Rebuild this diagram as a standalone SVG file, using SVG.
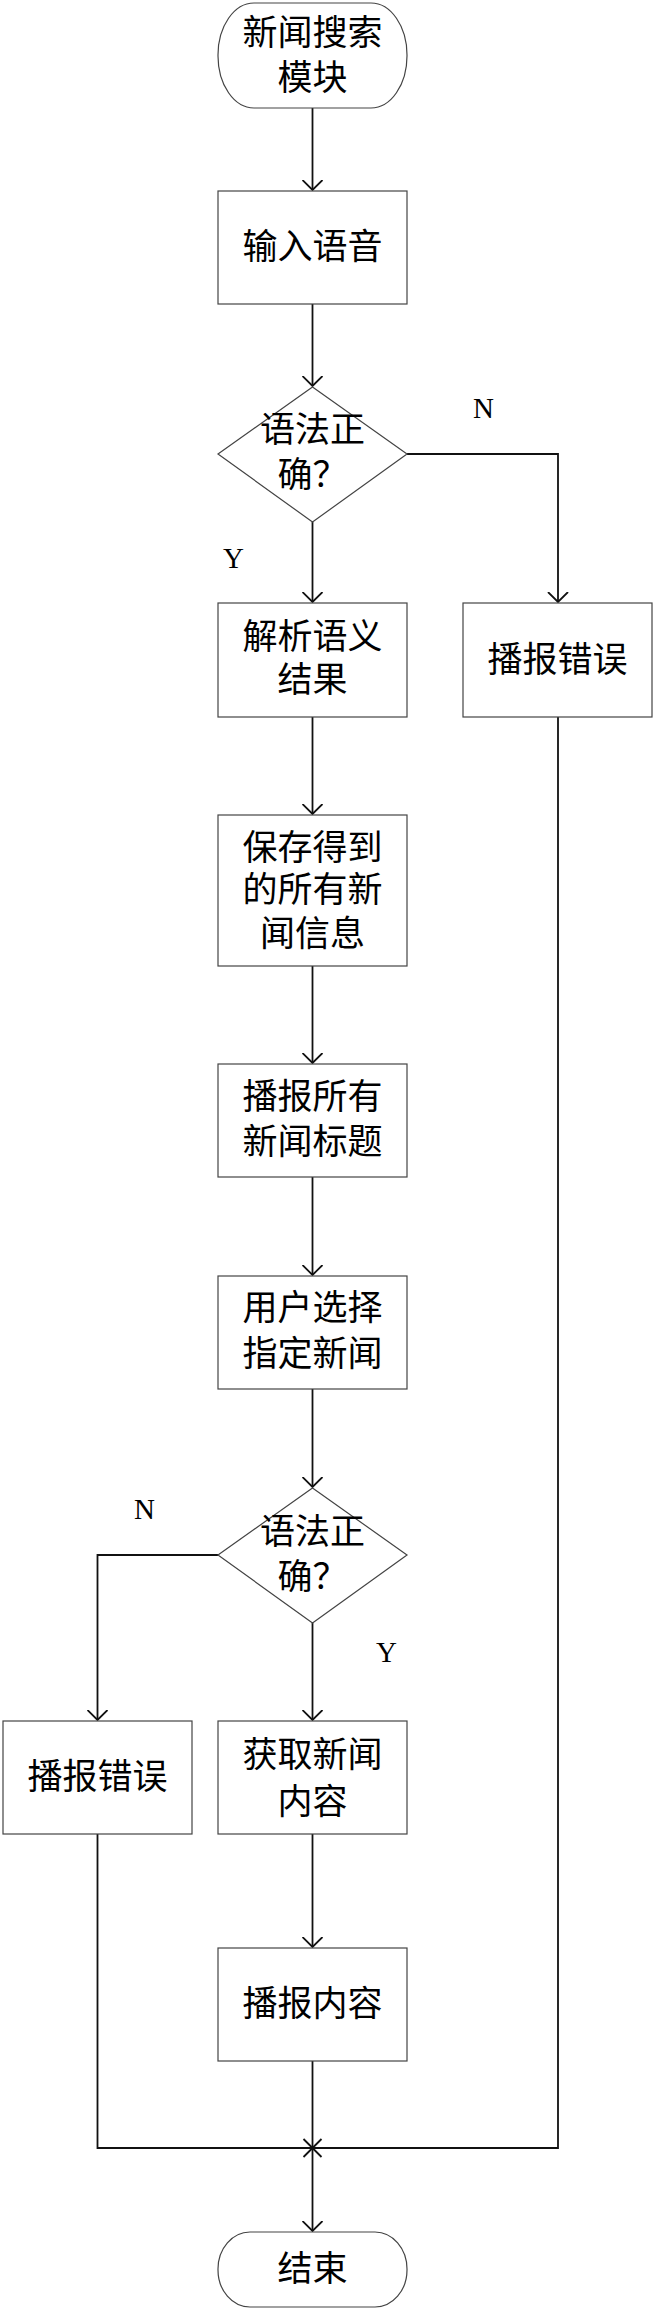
<svg xmlns="http://www.w3.org/2000/svg" width="656" height="2310" viewBox="0 0 656 2310">
<style>
.node{fill:#fff;stroke:#444;stroke-width:1.2}
.t{font-family:"Liberation Serif","Noto Sans CJK SC",serif;font-size:35px;fill:#000;text-anchor:middle}
.lbl{font-family:"Liberation Serif",serif;font-size:29px;fill:#000}
.c{fill:none;stroke:#111;stroke-width:1.8}
</style>
<defs>
<marker id="arr" viewBox="0 0 11 22" refX="10" refY="11" markerWidth="11" markerHeight="22" markerUnits="userSpaceOnUse" orient="auto">
<path d="M0,1 L10,11 L0,21" fill="none" stroke="#111" stroke-width="1.8"/>
</marker>
</defs>
<rect width="656" height="2310" fill="#fff"/>
<g id="connectors">
<line class="c" x1="312.5" y1="108" x2="312.5" y2="190" marker-end="url(#arr)"/>
<line class="c" x1="312.5" y1="304" x2="312.5" y2="386" marker-end="url(#arr)"/>
<line class="c" x1="312.5" y1="522" x2="312.5" y2="602" marker-end="url(#arr)"/>
<polyline class="c" points="407,454 558,454 558,602" marker-end="url(#arr)"/>
<line class="c" x1="312.5" y1="717" x2="312.5" y2="814" marker-end="url(#arr)"/>
<line class="c" x1="312.5" y1="966" x2="312.5" y2="1063" marker-end="url(#arr)"/>
<line class="c" x1="312.5" y1="1177" x2="312.5" y2="1275" marker-end="url(#arr)"/>
<line class="c" x1="312.5" y1="1389" x2="312.5" y2="1487" marker-end="url(#arr)"/>
<line class="c" x1="312.5" y1="1623" x2="312.5" y2="1720" marker-end="url(#arr)"/>
<polyline class="c" points="219,1555 97.5,1555 97.5,1720" marker-end="url(#arr)"/>
<line class="c" x1="312.5" y1="1834" x2="312.5" y2="1947" marker-end="url(#arr)"/>
<line class="c" x1="312.5" y1="2061" x2="312.5" y2="2148"/>
<polyline class="c" points="97.5,1834 97.5,2148 312.5,2148"/>
<polyline class="c" points="558,717 558,2148 312.5,2148"/>
<line class="c" x1="303.5" y1="2139" x2="321.5" y2="2157"/>
<line class="c" x1="321.5" y1="2139" x2="303.5" y2="2157"/>
<line class="c" x1="312.5" y1="2148" x2="312.5" y2="2231" marker-end="url(#arr)"/>
</g>
<g id="start">
<rect class="node" x="218" y="3" width="189" height="105" rx="36" ry="52"/>
<text class="t" x="312.5" y="45">新闻搜索</text>
<text class="t" x="312.5" y="90">模块</text>
</g>
<g id="input">
<rect class="node" x="218" y="191" width="189" height="113"/>
<text class="t" x="312.5" y="259">输入语音</text>
</g>
<g id="check1">
<polygon class="node" points="312.5,387 407,454 312.5,522 218,454"/>
<text class="t" x="312.5" y="442">语法正</text>
<text class="t" x="312.5" y="487">确？</text>
</g>
<text class="lbl" x="473" y="418">N</text>
<text class="lbl" x="223" y="568">Y</text>
<g id="parse">
<rect class="node" x="218" y="603" width="189" height="114"/>
<text class="t" x="312.5" y="649">解析语义</text>
<text class="t" x="312.5" y="692">结果</text>
</g>
<g id="error1">
<rect class="node" x="463" y="603" width="189" height="114"/>
<text class="t" x="557.5" y="672">播报错误</text>
</g>
<g id="save">
<rect class="node" x="218" y="815" width="189" height="151"/>
<text class="t" x="312.5" y="860">保存得到</text>
<text class="t" x="312.5" y="902">的所有新</text>
<text class="t" x="312.5" y="946">闻信息</text>
</g>
<g id="titles">
<rect class="node" x="218" y="1064" width="189" height="113"/>
<text class="t" x="312.5" y="1109">播报所有</text>
<text class="t" x="312.5" y="1154">新闻标题</text>
</g>
<g id="select">
<rect class="node" x="218" y="1276" width="189" height="113"/>
<text class="t" x="312.5" y="1320">用户选择</text>
<text class="t" x="312.5" y="1366">指定新闻</text>
</g>
<g id="check2">
<polygon class="node" points="312.5,1488 407,1555 312.5,1623 218,1555"/>
<text class="t" x="312.5" y="1544">语法正</text>
<text class="t" x="312.5" y="1589">确？</text>
</g>
<text class="lbl" x="134" y="1519">N</text>
<text class="lbl" x="376" y="1662">Y</text>
<g id="error2">
<rect class="node" x="3" y="1721" width="189" height="113"/>
<text class="t" x="97.5" y="1789">播报错误</text>
</g>
<g id="fetch">
<rect class="node" x="218" y="1721" width="189" height="113"/>
<text class="t" x="312.5" y="1767">获取新闻</text>
<text class="t" x="312.5" y="1814">内容</text>
</g>
<g id="play">
<rect class="node" x="218" y="1948" width="189" height="113"/>
<text class="t" x="312.5" y="2016">播报内容</text>
</g>
<g id="end">
<rect class="node" x="218" y="2232" width="189" height="75" rx="32" ry="37"/>
<text class="t" x="312.5" y="2281">结束</text>
</g>
</svg>
